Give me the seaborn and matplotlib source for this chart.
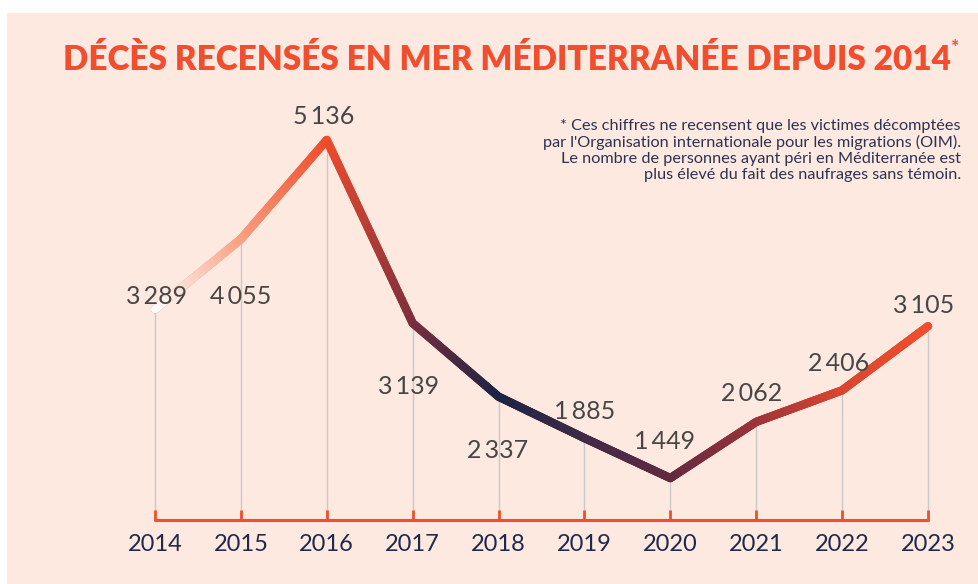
import matplotlib
matplotlib.use("Agg")
import matplotlib.pyplot as plt
from matplotlib.collections import LineCollection
from matplotlib.colors import to_rgb
from matplotlib.patches import Rectangle
import seaborn as sns
import numpy as np
import pandas as pd

# data
years = [2014, 2015, 2016, 2017, 2018, 2019, 2020, 2021, 2022, 2023]
deaths = [3289, 4055, 5136, 3139, 2337, 1885, 1449, 2062, 2406, 3105]

# label offsets from the point (pixels, up is positive) -- layout only
label_dx = [2, 0, -3, -4, -1, 0, -6, -5, -3, -4]
label_dy = [13, -57, 24, -63, -54, 27, 37, 28, 27, 21]

title = "DÉCÈS RECENSÉS EN MER MÉDITERRANÉE DEPUIS 2014"
note = ("* Ces chiffres ne recensent que les victimes décomptées\n"
        "par l'Organisation internationale pour les migrations (OIM).\n"
        "Le nombre de personnes ayant péri en Méditerranée est\n"
        "plus élevé du fait des naufrages sans témoin.")

bg = "#FDE9E0"
red = "#F04E2E"
navy = "#1E2A4C"
grey_txt = "#464646"
# colour stops along the line, one per year
stops = ["#FFFFFF", "#F8A283", "#EF4C2C", "#7C2F3F", "#1A2445",
         "#3E2A49", "#5F2A40", "#9A3339", "#D9452F", "#F04E2E"]

sns.set_theme(style="white")
plt.rcParams["font.family"] = ["Lato", "DejaVu Sans"]

W, H = 979, 584
fig = plt.figure(figsize=(W / 100, H / 100), dpi=100)
fig.patch.set_facecolor("white")
fig.patches.append(Rectangle((7 / W, 0), 1 - 7 / W, 1 - 13 / H, transform=fig.transFigure,
                             facecolor=bg, edgecolor="none", zorder=-10))

ax = fig.add_axes([155 / W, 1 - 520 / H, (928 - 155) / W, (520 - 140) / H])
ax.set_facecolor("none")
ax.set_xlim(2014, 2023)
ax.set_ylim(992, 5136)
ax.axis("off")

df = pd.DataFrame({"year": years, "deaths": deaths})

# vertical drop lines
ax.vlines(df["year"], 992, df["deaths"], color="#C9C9C9", linewidth=1, zorder=1, clip_on=False)

# base line via seaborn, then gradient on top
sns.lineplot(data=df, x="year", y="deaths", ax=ax, color=red, linewidth=6,
             zorder=2, legend=False)
for l in ax.lines:
    l.set_clip_on(False)
    l.set_solid_capstyle("round")
    l.set_solid_joinstyle("round")

# gradient segments between data points
segs, cols = [], []
n = 40
for i in range(len(years) - 1):
    c0, c1 = np.array(to_rgb(stops[i])), np.array(to_rgb(stops[i + 1]))
    xs = np.linspace(years[i], years[i + 1], n + 1)
    ys = np.linspace(deaths[i], deaths[i + 1], n + 1)
    for k in range(n):
        segs.append([(xs[k], ys[k]), (xs[k + 1], ys[k + 1])])
        t = (k + 0.5) / n
        cols.append(c0 * (1 - t) + c1 * t)
lc = LineCollection(segs, colors=cols, linewidths=6, capstyle="round", zorder=3)
lc.set_clip_on(False)
ax.add_collection(lc)

# baseline with ticks
ax.plot([years[0], years[-1]], [992, 992], color=red, linewidth=2.2, clip_on=False, zorder=2)
ax.vlines(df["year"], 992, 992 + 110, color=red, linewidth=2, clip_on=False, zorder=2)

# value labels
for x, y, dx, dy in zip(years, deaths, label_dx, label_dy):
    txt = f"{y:,}".replace(",", "\u2009")
    ax.annotate(txt, (x, y), xytext=(dx * 0.72, dy * 0.72), textcoords="offset points",
                ha="center", va="center", fontsize=18, color=grey_txt, zorder=4)

# year labels
for x in years:
    ax.annotate(str(x), (x, 992), xytext=(0, -10), textcoords="offset points",
                ha="center", va="top", fontsize=17, color=navy)

fig.text(63 / W, 1 - 60 / H, title, fontsize=24, fontweight="heavy", color=red,
         ha="left", va="center")
fig.text(951 / W, 1 - 48 / H, "*", fontsize=14, fontweight="bold", color=red,
         ha="left", va="center")
fig.text(961 / W, 1 - 119 / H, note, fontsize=11.7, color="#2B3354", ha="right", va="top",
         linespacing=1.17)

fig.savefig("out.png", dpi=100, facecolor=fig.get_facecolor())
